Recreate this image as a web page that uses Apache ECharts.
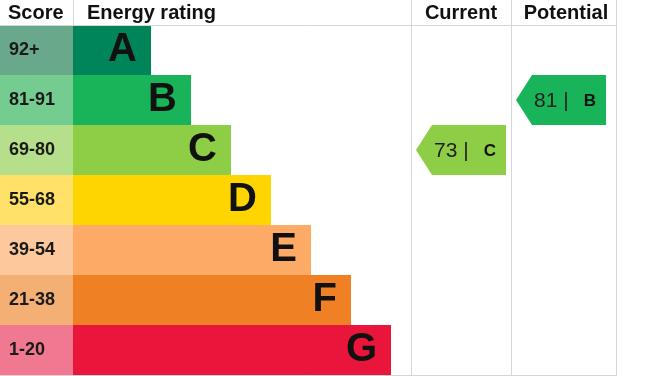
<!DOCTYPE html>
<html>
<head>
<meta charset="utf-8">
<script src="https://cdn.jsdelivr.net/npm/echarts@6/dist/echarts.min.js"></script>
<style>html,body{margin:0;padding:0;background:#fff}#c{width:660px;height:376px}</style>
</head>
<body>
<div id="c"></div>
<script>
// ---- data ----
var bands = ['A', 'B', 'C', 'D', 'E', 'F', 'G'];
var scoreRanges = ['92+', '81-91', '69-80', '55-68', '39-54', '21-38', '1-20'];
var barLengths = [78, 118, 158, 198, 238, 278, 318];
var barColors = ['#00855a', '#19b459', '#8dce46', '#ffd500', '#fcaa65', '#ef8023', '#e9153b'];
var scoreColors = ['#69a88a', '#74cc90', '#b5df8a', '#ffe068', '#fdc89b', '#f4af74', '#f07891'];
var ratingColumns = ['Current', 'Potential'];
var currentRating = { score: 73, band: 'C' };
var potentialRating = { score: 81, band: 'B' };
var headers = ['Score', 'Energy rating', 'Current', 'Potential'];

var FONT = 'Arial, "Liberation Sans", sans-serif';
var chart = echarts.init(document.getElementById('c'), null, { renderer: 'canvas' });

var ratings = [currentRating, potentialRating].map(function (r, i) {
  return [i, bands.indexOf(r.band), r.score, r.band];
});

function hiddenY(idx) {
  return { type: 'category', gridIndex: idx, data: bands, inverse: true, show: false,
    axisLine: { show: false }, axisTick: { show: false }, axisLabel: { show: false } };
}

var lineColor = '#d6d6d6';
function vline(x, y1, y2) {
  return { type: 'line', silent: true, z: 10, shape: { x1: x, y1: y1, x2: x, y2: y2 },
    style: { stroke: lineColor, lineWidth: 1 } };
}
function hline(y, x1, x2) {
  return { type: 'line', silent: true, z: 10, shape: { x1: x1, y1: y, x2: x2, y2: y },
    style: { stroke: lineColor, lineWidth: 1 } };
}
function header(text, x, align) {
  return { type: 'text', silent: true, x: x, y: 13,
    style: { text: text, font: 'bold 20px ' + FONT, fill: '#111', align: align, verticalAlign: 'middle' } };
}

chart.setOption({
  animation: false,
  backgroundColor: '#ffffff',
  grid: [
    { left: 0, top: 25, width: 73, height: 350 },
    { left: 73, top: 25, width: 338, height: 350 },
    { left: 411, top: 25, width: 200, height: 350 }
  ],
  xAxis: [
    { type: 'value', gridIndex: 0, min: 0, max: 1, show: false },
    { type: 'value', gridIndex: 1, min: 0, max: 338, show: false },
    { type: 'category', gridIndex: 2, data: ratingColumns, show: false }
  ],
  yAxis: [hiddenY(0), hiddenY(1), hiddenY(2)],
  series: [
    {
      type: 'bar', xAxisIndex: 0, yAxisIndex: 0, barWidth: '100%',
      data: scoreRanges.map(function (s, i) {
        return { value: 1, name: s, itemStyle: { color: scoreColors[i] } };
      }),
      label: { show: true, position: 'insideLeft', distance: 9,
        formatter: function (p) { return p.name; },
        fontFamily: FONT, fontWeight: 'bold', fontSize: 18, color: '#1a1a1a' }
    },
    {
      type: 'bar', xAxisIndex: 1, yAxisIndex: 1, barWidth: '100%',
      data: barLengths.map(function (v, i) {
        return { value: v, name: bands[i], itemStyle: { color: barColors[i] } };
      }),
      label: { show: true, position: 'insideRight', distance: 14,
        formatter: function (p) { return p.name; },
        fontFamily: FONT, fontWeight: 'bold', fontSize: 40, color: '#111' }
    },
    {
      type: 'custom', xAxisIndex: 2, yAxisIndex: 2,
      data: ratings,
      renderItem: function (params, api) {
        var c = api.coord([api.value(0), api.value(1)]);
        var colW = api.size([1, 0])[0];
        var rowH = api.size([0, 1])[1];
        var left = c[0] - colW / 2 + 5, right = c[0] + colW / 2 - 5;
        var top = c[1] - rowH / 2, bottom = c[1] + rowH / 2;
        var tip = 16;
        var band = bands[api.value(1)];
        var color = barColors[api.value(1)];
        return {
          type: 'group',
          children: [
            { type: 'polygon',
              shape: { points: [[left, c[1]], [left + tip, top], [right, top], [right, bottom], [left + tip, bottom]] },
              style: { fill: color } },
            { type: 'text', x: left + 18, y: c[1] + 1,
              style: {
                text: '{n|' + api.value(2) + ' |}{b|' + band + '}',
                align: 'left', verticalAlign: 'middle',
                rich: {
                  n: { font: '21px ' + FONT, fill: '#222' },
                  b: { font: 'bold 17px ' + FONT, fill: '#111', padding: [0, 0, 0, 15] }
                }
              } }
          ]
        };
      }
    }
  ],
  graphic: [
    hline(25.5, 0, 617),
    hline(375.5, 0, 617),
    vline(73.5, 0, 25),
    vline(411.5, 0, 376),
    vline(511.5, 0, 376),
    vline(616.5, 0, 376),
    header(headers[0], 8, 'left'),
    header(headers[1], 87, 'left'),
    header(headers[2], 461, 'center'),
    header(headers[3], 566, 'center')
  ]
});
</script>
</body>
</html>
